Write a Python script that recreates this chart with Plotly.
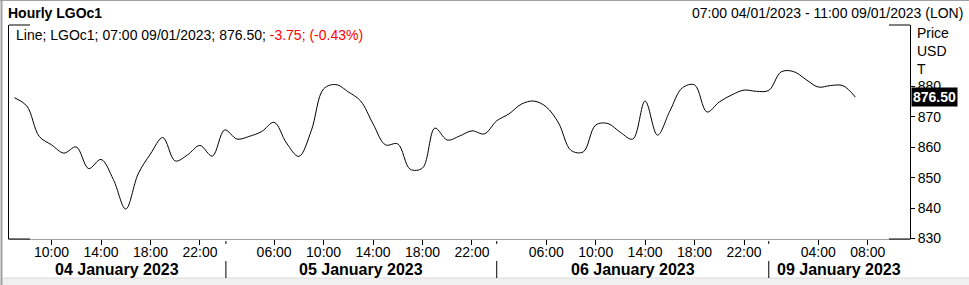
import plotly.graph_objects as go

# ---------------- data ----------------
day_04 = [f"04/01 {h:02d}:00" for h in range(7, 23)]
day_05 = [f"05/01 {h:02d}:00" for h in range(1, 23)]
day_06 = [f"06/01 {h:02d}:00" for h in range(1, 23)]
day_09 = ["08/01 23:00", "09/01 00:00"] + [f"09/01 {h:02d}:00" for h in range(1, 12)]
slots = day_04 + day_05 + day_06 + day_09

prices = [
    876.3, 873.6, 863.6, 860.8, 858.1, 860.1, 853.0, 856.0, 849.4, 839.7,
    851.2, 857.8, 863.2, 855.5, 857.5, 860.6,
    857.1, 865.7, 862.7, 863.6, 865.2, 868.2, 861.4, 857.0, 865.4, 879.2,
    880.6, 878.2, 875.2, 867.7, 860.8, 861.1, 852.8, 853.2, 866.3, 862.4,
    863.7, 865.4,
    864.4, 868.7, 871.0, 874.2, 875.2, 873.3, 868.0, 859.0, 858.5, 867.3,
    867.8, 864.9, 862.7, 875.2, 864.0, 871.9, 879.5, 880.5, 871.6, 874.9,
    877.2, 878.8,
    878.4, 878.7, 884.8, 884.9, 882.3, 879.8, 880.3, 880.25, 876.50,
]

tick_slots = ["04/01 10:00", "04/01 14:00", "04/01 18:00", "04/01 22:00",
              "05/01 06:00", "05/01 10:00", "05/01 14:00", "05/01 18:00", "05/01 22:00",
              "06/01 06:00", "06/01 10:00", "06/01 14:00", "06/01 18:00", "06/01 22:00",
              "09/01 04:00", "09/01 08:00"]
tick_text = [s.split(" ")[1] for s in tick_slots]

day_names = ["04 January 2023", "05 January 2023", "06 January 2023", "09 January 2023"]
y_ticks = [830, 840, 850, 860, 870, 880]

# ---------------- layout constants ----------------
FONT = "Liberation Sans, Arial, sans-serif"
X_RANGE = [-0.44, 72.42]
Y_RANGE = [829.85, 900.2]
separators = [17.1, 39.0, 61.0]
bounds = [X_RANGE[0]] + separators + [X_RANGE[1]]

x = list(range(len(prices)))
last = prices[-1]
chg = last - prices[-2]
pct = chg / prices[-2] * 100

fig = go.Figure()
fig.add_trace(go.Scatter(
    x=x, y=prices, mode="lines",
    line=dict(color="black", width=1, shape="spline", smoothing=1.0),
    text=slots[:len(prices)], hoverinfo="text+y", showlegend=False,
))

def py2paper(py):
    return (239 - py) / 214.0

def px2paper(px):
    return (px - 9) / 901.0

shapes = []
# outer window frame
shapes.append(dict(type="rect", xref="paper", yref="paper",
                   x0=px2paper(-1), x1=px2paper(970), y0=py2paper(285), y1=py2paper(278),
                   fillcolor="#f0f0f0", line=dict(width=0), layer="below"))
shapes.append(dict(type="line", xref="paper", yref="paper",
                   x0=px2paper(3), x1=px2paper(970), y0=py2paper(278), y1=py2paper(278),
                   line=dict(color="#dadada", width=1)))
shapes.append(dict(type="line", xref="paper", yref="paper",
                   x0=px2paper(1.5), x1=px2paper(1.5), y0=py2paper(285), y1=py2paper(0),
                   line=dict(color="#a0a0a0", width=2)))
shapes.append(dict(type="line", xref="paper", yref="paper",
                   x0=px2paper(0), x1=px2paper(970), y0=py2paper(0.5), y1=py2paper(0.5),
                   line=dict(color="#a0a0a0", width=1)))
# black corner pieces of the plot frame
c = px2paper(30) - px2paper(9)
for yy in (0, 1):
    shapes.append(dict(type="line", xref="paper", yref="paper", x0=0, x1=c, y0=yy, y1=yy,
                       line=dict(color="black", width=1), layer="above"))
    shapes.append(dict(type="line", xref="paper", yref="paper", x0=1 - c, x1=1, y0=yy, y1=yy,
                       line=dict(color="black", width=1), layer="above"))
# day separators
for s in separators:
    shapes.append(dict(type="line", xref="x", yref="paper", x0=s, x1=s,
                       y0=py2paper(241), y1=py2paper(244), line=dict(color="black", width=1)))
    shapes.append(dict(type="line", xref="x", yref="paper", x0=s, x1=s,
                       y0=py2paper(261), y1=py2paper(278), line=dict(color="black", width=1)))

annotations = []
annotations.append(dict(xref="paper", yref="paper", x=px2paper(6), y=py2paper(13),
                        xanchor="left", yanchor="middle", showarrow=False,
                        text="<b>Hourly LGOc1</b>", font=dict(family=FONT, size=14, color="black")))
annotations.append(dict(xref="paper", yref="paper", x=px2paper(965), y=py2paper(13),
                        xanchor="right", yanchor="middle", showarrow=False,
                        text="07:00 04/01/2023 - 11:00 09/01/2023 (LON)",
                        font=dict(family=FONT, size=14, color="black")))
legend_txt = (f"Line; LGOc1; 07:00 09/01/2023; {last:.2f}; "
              f"<span style='color:#ff0000'>{chg:.2f}; ({pct:.2f}%)</span>")
annotations.append(dict(xref="paper", yref="paper", x=px2paper(14), y=py2paper(35),
                        xanchor="left", yanchor="middle", showarrow=False,
                        text=legend_txt, font=dict(family=FONT, size=14, color="black")))
for t, yy in zip(["Price", "USD", "T"], [33, 51, 69]):
    annotations.append(dict(xref="paper", yref="paper", x=px2paper(915), y=py2paper(yy),
                            xanchor="left", yanchor="middle", showarrow=False,
                            text=t, font=dict(family=FONT, size=14, color="black")))
annotations.append(dict(xref="paper", yref="y", x=px2paper(910.5), y=last,
                        xanchor="left", yanchor="middle", showarrow=False,
                        text=f"<b>{last:.2f}</b>", bgcolor="black", borderpad=1,
                        font=dict(family=FONT, size=14, color="white")))
for i, name in enumerate(day_names):
    annotations.append(dict(xref="x", yref="paper", x=(bounds[i] + bounds[i + 1]) / 2,
                            y=py2paper(269), xanchor="center", yanchor="middle",
                            showarrow=False, text=f"<b>{name}</b>",
                            font=dict(family=FONT, size=16, color="black")))

fig.update_layout(
    width=969, height=285, autosize=False,
    margin=dict(l=9, r=59, t=25, b=46, pad=0),
    paper_bgcolor="white", plot_bgcolor="white",
    font=dict(family=FONT, size=14, color="black"),
    shapes=shapes, annotations=annotations,
    xaxis=dict(range=X_RANGE, showgrid=False, zeroline=False,
               showline=True, linecolor="#a0a0a0", linewidth=1,
               ticks="outside", ticklen=5, tickcolor="black", tickwidth=1,
               ticklabelstandoff=-5,
               tickvals=[slots.index(s) for s in tick_slots], ticktext=tick_text,
               tickfont=dict(family=FONT, size=14, color="black")),
    yaxis=dict(range=Y_RANGE, side="right", showgrid=False, zeroline=False,
               showline=True, linecolor="black", linewidth=1, mirror=True,
               ticks="outside", ticklen=4, tickcolor="black", tickwidth=1,
               tickvals=y_ticks, tickfont=dict(family=FONT, size=14, color="black")),
    hovermode="closest",
)

fig.write_html("out.html")
